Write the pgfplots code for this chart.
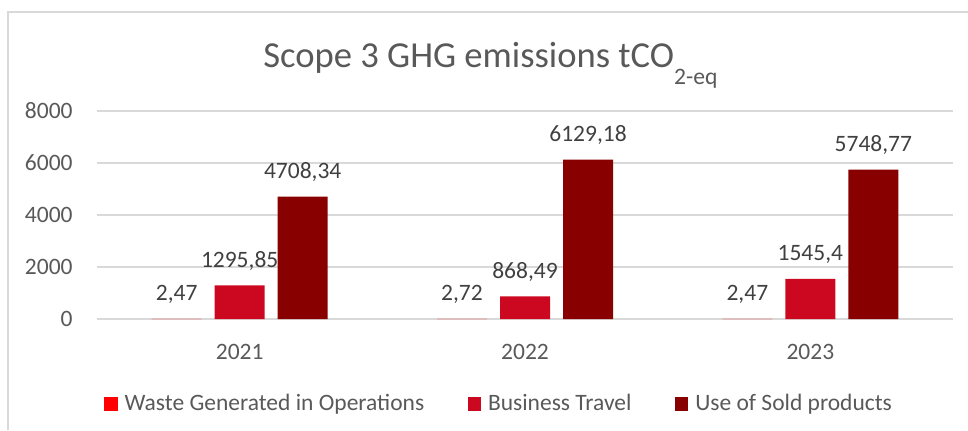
\documentclass[border=0pt]{standalone}
\usepackage{fontspec}
\setmainfont{Carlito}
\usepackage{pgfplots}
\pgfplotsset{compat=1.18}
\definecolor{wastecol}{RGB}{255,0,0}
\definecolor{travelcol}{RGB}{204,8,32}
\definecolor{soldcol}{RGB}{136,0,0}
\definecolor{gridcol}{RGB}{217,217,217}
\definecolor{txtcol}{RGB}{89,89,89}
\definecolor{lblcol}{RGB}{64,64,64}
\newcommand{\tickfont}{\fontsize{11.75}{14}\selectfont}
\begin{document}
\begin{tikzpicture}
\path[use as bounding box] (0,0) rectangle (484pt,215pt);
\draw[gridcol, line width=1pt] (4pt,0) -- (4pt,209pt) -- (484pt,209pt);
\node[anchor=base west, text=txtcol, inner sep=0pt, font=\fontsize{18.3}{22}\selectfont] at (131.5pt,181.5pt) {Scope 3 GHG emissions tCO\raisebox{-8.8pt}{\fontsize{11.8}{14}\selectfont 2-eq}};
\begin{axis}[
  at={(48.5pt,55.5pt)}, anchor=south west,
  scale only axis, width=428pt, height=104pt,
  xmin=-0.5, xmax=2.5, ymin=0, ymax=8000,
  ybar=6.5pt, bar width=25pt,
  clip=false,
  axis line style={draw=none},
  major tick length=0pt,
  ymajorgrids, grid style={gridcol, line width=1pt},
  xtick={0,1,2}, xticklabels={2021,2022,2023},
  ytick={0,2000,4000,6000,8000},
  /pgf/number format/assume math mode=true,
  /pgf/number format/1000 sep={},
  ticklabel style={font=\tickfont, text=txtcol},
  xticklabel style={inner sep=0pt, anchor=north, yshift=-12.5pt},
  yticklabel style={inner sep=0pt, anchor=east, xshift=-12pt},
  point meta=explicit symbolic,
  nodes near coords,
  nodes near coords style={anchor=base, inner sep=0pt, yshift=9pt, font=\tickfont, text=lblcol},
  legend columns=3,
  legend image code/.code={\fill[#1] (0pt,-3.375pt) rectangle (6.75pt,3.375pt);},
  legend style={at={(0.4685,-0.409)}, anchor=center, draw=none, fill=none,
    font=\tickfont, text=txtcol, column sep=0pt, nodes={inner sep=0pt},
    /tikz/every odd column/.append style={column sep=3.5pt},
    /tikz/every even column/.append style={column sep=21.65pt}},
  legend cell align=left,
]
\addplot[fill=wastecol, draw=none] coordinates {(0,2.47) [2,47] (1,2.72) [2,72] (2,2.47) [2,47]};
\addplot[fill=travelcol, draw=none] coordinates {(0,1295.85) [1295,85] (1,868.49) [868,49] (2,1545.4) [1545,4]};
\addplot[fill=soldcol, draw=none] coordinates {(0,4708.34) [4708,34] (1,6129.18) [6129,18] (2,5748.77) [5748,77]};
\legend{Waste Generated in Operations, Business Travel, Use of Sold products}
\end{axis}
\end{tikzpicture}
\end{document}
